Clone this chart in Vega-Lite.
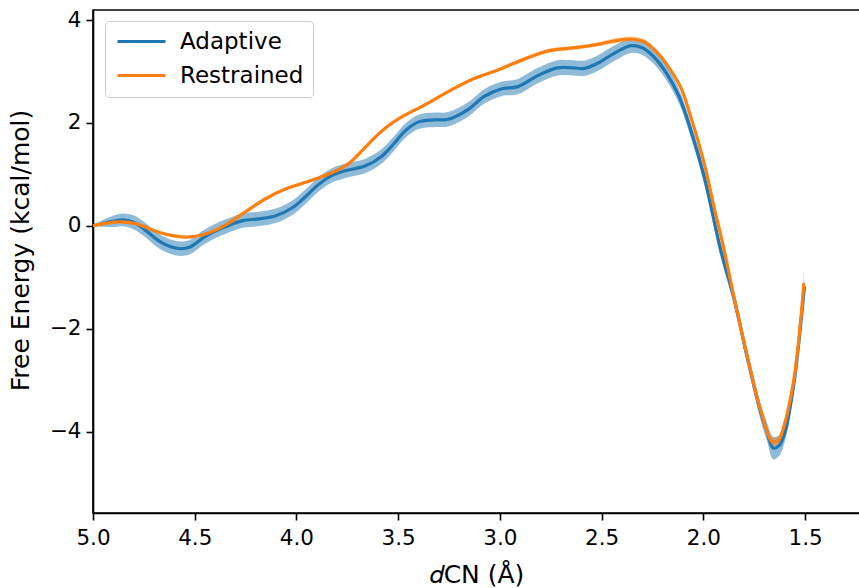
{
  "$schema": "https://vega.github.io/schema/vega-lite/v6.json",
  "width": 767,
  "height": 503,
  "autosize": {"type": "none"},
  "padding": {"left": 93, "top": 10, "right": 0, "bottom": 75},
  "background": "white",
  "config": {
    "font": "DejaVu Sans",
    "view": {"stroke": "black", "strokeWidth": 1.6},
    "axis": {
      "grid": false,
      "domainColor": "black",
      "domainWidth": 1.6,
      "tickColor": "black",
      "tickWidth": 1.6,
      "tickSize": 7,
      "labelFontSize": 21.5,
      "labelColor": "black",
      "labelPadding": 5,
      "labelFlush": false,
      "titleFontSize": 25,
      "titleFontWeight": "normal",
      "titleColor": "black",
      "labelFont": "DejaVu Sans",
      "titleFont": "DejaVu Sans"
    },
    "legend": {
      "orient": "none",
      "legendX": 12,
      "legendY": 11,
      "padding": 9,
      "strokeColor": "#cccccc",
      "fillColor": "rgba(255,255,255,0.8)",
      "cornerRadius": 4,
      "symbolType": "M-1,0H5",
      "symbolSize": 256,
      "symbolStrokeWidth": 3.2,
      "labelFontSize": 23,
      "labelFont": "DejaVu Sans",
      "labelColor": "black",
      "labelOffset": 43,
      "rowPadding": 10
    }
  },
  "data": {
    "values": [
      {"series": "Adaptive", "d": 5.000, "fe": 0.000, "lo": 0.000, "hi": 0.000},
      {"series": "Adaptive", "d": 4.951, "fe": 0.045, "lo": -0.020, "hi": 0.110},
      {"series": "Adaptive", "d": 4.902, "fe": 0.085, "lo": -0.025, "hi": 0.195},
      {"series": "Adaptive", "d": 4.853, "fe": 0.115, "lo": -0.010, "hi": 0.240},
      {"series": "Adaptive", "d": 4.799, "fe": 0.065, "lo": -0.070, "hi": 0.200},
      {"series": "Adaptive", "d": 4.755, "fe": -0.045, "lo": -0.185, "hi": 0.095},
      {"series": "Adaptive", "d": 4.673, "fe": -0.305, "lo": -0.445, "hi": -0.165},
      {"series": "Adaptive", "d": 4.618, "fe": -0.408, "lo": -0.548, "hi": -0.268},
      {"series": "Adaptive", "d": 4.567, "fe": -0.447, "lo": -0.587, "hi": -0.307},
      {"series": "Adaptive", "d": 4.520, "fe": -0.408, "lo": -0.548, "hi": -0.268},
      {"series": "Adaptive", "d": 4.461, "fe": -0.239, "lo": -0.379, "hi": -0.099},
      {"series": "Adaptive", "d": 4.407, "fe": -0.117, "lo": -0.257, "hi": 0.023},
      {"series": "Adaptive", "d": 4.347, "fe": -0.014, "lo": -0.154, "hi": 0.126},
      {"series": "Adaptive", "d": 4.265, "fe": 0.100, "lo": -0.040, "hi": 0.240},
      {"series": "Adaptive", "d": 4.183, "fe": 0.135, "lo": -0.005, "hi": 0.275},
      {"series": "Adaptive", "d": 4.101, "fe": 0.195, "lo": 0.055, "hi": 0.335},
      {"series": "Adaptive", "d": 4.020, "fe": 0.350, "lo": 0.210, "hi": 0.490},
      {"series": "Adaptive", "d": 3.960, "fe": 0.550, "lo": 0.410, "hi": 0.690},
      {"series": "Adaptive", "d": 3.892, "fe": 0.800, "lo": 0.660, "hi": 0.940},
      {"series": "Adaptive", "d": 3.830, "fe": 0.970, "lo": 0.830, "hi": 1.110},
      {"series": "Adaptive", "d": 3.760, "fe": 1.070, "lo": 0.930, "hi": 1.210},
      {"series": "Adaptive", "d": 3.663, "fe": 1.160, "lo": 1.020, "hi": 1.300},
      {"series": "Adaptive", "d": 3.582, "fe": 1.346, "lo": 1.206, "hi": 1.486},
      {"series": "Adaptive", "d": 3.520, "fe": 1.600, "lo": 1.460, "hi": 1.740},
      {"series": "Adaptive", "d": 3.467, "fe": 1.840, "lo": 1.700, "hi": 1.980},
      {"series": "Adaptive", "d": 3.400, "fe": 2.020, "lo": 1.880, "hi": 2.160},
      {"series": "Adaptive", "d": 3.320, "fe": 2.060, "lo": 1.920, "hi": 2.200},
      {"series": "Adaptive", "d": 3.255, "fe": 2.070, "lo": 1.930, "hi": 2.210},
      {"series": "Adaptive", "d": 3.157, "fe": 2.260, "lo": 2.120, "hi": 2.400},
      {"series": "Adaptive", "d": 3.075, "fe": 2.520, "lo": 2.380, "hi": 2.660},
      {"series": "Adaptive", "d": 2.994, "fe": 2.660, "lo": 2.520, "hi": 2.800},
      {"series": "Adaptive", "d": 2.912, "fe": 2.705, "lo": 2.555, "hi": 2.855},
      {"series": "Adaptive", "d": 2.814, "fe": 2.920, "lo": 2.770, "hi": 3.070},
      {"series": "Adaptive", "d": 2.716, "fe": 3.070, "lo": 2.920, "hi": 3.220},
      {"series": "Adaptive", "d": 2.640, "fe": 3.070, "lo": 2.920, "hi": 3.220},
      {"series": "Adaptive", "d": 2.585, "fe": 3.060, "lo": 2.910, "hi": 3.210},
      {"series": "Adaptive", "d": 2.520, "fe": 3.159, "lo": 3.009, "hi": 3.309},
      {"series": "Adaptive", "d": 2.438, "fe": 3.353, "lo": 3.203, "hi": 3.503},
      {"series": "Adaptive", "d": 2.356, "fe": 3.501, "lo": 3.361, "hi": 3.641},
      {"series": "Adaptive", "d": 2.300, "fe": 3.460, "lo": 3.320, "hi": 3.600},
      {"series": "Adaptive", "d": 2.240, "fe": 3.270, "lo": 3.130, "hi": 3.410},
      {"series": "Adaptive", "d": 2.180, "fe": 2.960, "lo": 2.820, "hi": 3.100},
      {"series": "Adaptive", "d": 2.120, "fe": 2.520, "lo": 2.380, "hi": 2.660},
      {"series": "Adaptive", "d": 2.062, "fe": 1.864, "lo": 1.724, "hi": 2.004},
      {"series": "Adaptive", "d": 1.996, "fe": 0.957, "lo": 0.817, "hi": 1.097},
      {"series": "Adaptive", "d": 1.915, "fe": -0.466, "lo": -0.606, "hi": -0.326},
      {"series": "Adaptive", "d": 1.850, "fe": -1.400, "lo": -1.540, "hi": -1.260},
      {"series": "Adaptive", "d": 1.784, "fe": -2.560, "lo": -2.700, "hi": -2.420},
      {"series": "Adaptive", "d": 1.719, "fe": -3.610, "lo": -3.770, "hi": -3.450},
      {"series": "Adaptive", "d": 1.686, "fe": -4.020, "lo": -4.200, "hi": -3.840},
      {"series": "Adaptive", "d": 1.657, "fe": -4.320, "lo": -4.540, "hi": -4.100},
      {"series": "Adaptive", "d": 1.627, "fe": -4.270, "lo": -4.470, "hi": -4.070},
      {"series": "Adaptive", "d": 1.598, "fe": -4.000, "lo": -4.170, "hi": -3.830},
      {"series": "Adaptive", "d": 1.555, "fe": -3.070, "lo": -3.220, "hi": -2.920},
      {"series": "Adaptive", "d": 1.523, "fe": -1.980, "lo": -2.130, "hi": -1.830},
      {"series": "Adaptive", "d": 1.503, "fe": -1.180, "lo": -1.330, "hi": -1.030},
      {"series": "Restrained", "d": 5.000, "fe": 0.000, "lo": 0.000, "hi": 0.000},
      {"series": "Restrained", "d": 4.935, "fe": 0.050, "lo": 0.030, "hi": 0.070},
      {"series": "Restrained", "d": 4.869, "fe": 0.075, "lo": 0.045, "hi": 0.105},
      {"series": "Restrained", "d": 4.788, "fe": 0.039, "lo": 0.009, "hi": 0.069},
      {"series": "Restrained", "d": 4.673, "fe": -0.130, "lo": -0.160, "hi": -0.100},
      {"series": "Restrained", "d": 4.543, "fe": -0.219, "lo": -0.249, "hi": -0.189},
      {"series": "Restrained", "d": 4.461, "fe": -0.175, "lo": -0.205, "hi": -0.145},
      {"series": "Restrained", "d": 4.347, "fe": 0.019, "lo": -0.011, "hi": 0.049},
      {"series": "Restrained", "d": 4.249, "fe": 0.278, "lo": 0.248, "hi": 0.308},
      {"series": "Restrained", "d": 4.150, "fe": 0.530, "lo": 0.500, "hi": 0.560},
      {"series": "Restrained", "d": 4.052, "fe": 0.720, "lo": 0.690, "hi": 0.750},
      {"series": "Restrained", "d": 3.960, "fe": 0.840, "lo": 0.810, "hi": 0.870},
      {"series": "Restrained", "d": 3.880, "fe": 0.950, "lo": 0.920, "hi": 0.980},
      {"series": "Restrained", "d": 3.800, "fe": 1.080, "lo": 1.050, "hi": 1.110},
      {"series": "Restrained", "d": 3.740, "fe": 1.220, "lo": 1.190, "hi": 1.250},
      {"series": "Restrained", "d": 3.680, "fe": 1.450, "lo": 1.420, "hi": 1.480},
      {"series": "Restrained", "d": 3.614, "fe": 1.720, "lo": 1.690, "hi": 1.750},
      {"series": "Restrained", "d": 3.550, "fe": 1.940, "lo": 1.910, "hi": 1.970},
      {"series": "Restrained", "d": 3.480, "fe": 2.120, "lo": 2.090, "hi": 2.150},
      {"series": "Restrained", "d": 3.369, "fe": 2.350, "lo": 2.320, "hi": 2.380},
      {"series": "Restrained", "d": 3.239, "fe": 2.641, "lo": 2.611, "hi": 2.671},
      {"series": "Restrained", "d": 3.132, "fe": 2.854, "lo": 2.824, "hi": 2.884},
      {"series": "Restrained", "d": 3.010, "fe": 3.029, "lo": 2.999, "hi": 3.059},
      {"series": "Restrained", "d": 2.912, "fe": 3.190, "lo": 3.150, "hi": 3.230},
      {"series": "Restrained", "d": 2.765, "fe": 3.398, "lo": 3.358, "hi": 3.438},
      {"series": "Restrained", "d": 2.634, "fe": 3.462, "lo": 3.422, "hi": 3.502},
      {"series": "Restrained", "d": 2.536, "fe": 3.515, "lo": 3.475, "hi": 3.555},
      {"series": "Restrained", "d": 2.438, "fe": 3.592, "lo": 3.542, "hi": 3.642},
      {"series": "Restrained", "d": 2.356, "fe": 3.631, "lo": 3.581, "hi": 3.681},
      {"series": "Restrained", "d": 2.291, "fe": 3.579, "lo": 3.529, "hi": 3.629},
      {"series": "Restrained", "d": 2.230, "fe": 3.380, "lo": 3.340, "hi": 3.420},
      {"series": "Restrained", "d": 2.170, "fe": 3.080, "lo": 3.040, "hi": 3.120},
      {"series": "Restrained", "d": 2.110, "fe": 2.680, "lo": 2.640, "hi": 2.720},
      {"series": "Restrained", "d": 2.062, "fe": 2.122, "lo": 2.082, "hi": 2.162},
      {"series": "Restrained", "d": 1.996, "fe": 1.217, "lo": 1.177, "hi": 1.257},
      {"series": "Restrained", "d": 1.948, "fe": 0.375, "lo": 0.335, "hi": 0.415},
      {"series": "Restrained", "d": 1.898, "fe": -0.466, "lo": -0.506, "hi": -0.426},
      {"series": "Restrained", "d": 1.850, "fe": -1.373, "lo": -1.413, "hi": -1.333},
      {"series": "Restrained", "d": 1.784, "fe": -2.538, "lo": -2.588, "hi": -2.488},
      {"series": "Restrained", "d": 1.719, "fe": -3.573, "lo": -3.633, "hi": -3.513},
      {"series": "Restrained", "d": 1.662, "fe": -4.188, "lo": -4.268, "hi": -4.108},
      {"series": "Restrained", "d": 1.632, "fe": -4.175, "lo": -4.255, "hi": -4.095},
      {"series": "Restrained", "d": 1.604, "fe": -3.897, "lo": -3.977, "hi": -3.817},
      {"series": "Restrained", "d": 1.555, "fe": -2.990, "lo": -3.090, "hi": -2.890},
      {"series": "Restrained", "d": 1.523, "fe": -1.889, "lo": -2.039, "hi": -1.739},
      {"series": "Restrained", "d": 1.506, "fe": -1.113, "lo": -1.363, "hi": -0.863}
    ]
  },
  "encoding": {
    "x": {"field": "d", "type": "quantitative", "scale": {"domain": [1.23, 5.0], "reverse": true, "nice": false, "zero": false},
          "axis": {"values": [5.0, 4.5, 4.0, 3.5, 3.0, 2.5, 2.0, 1.5], "format": ".1f", "title": "𝑑CN (Å)", "labelPadding": 7, "titlePadding": 14}}
  },
  "layer": [
    {
      "transform": [{"filter": "datum.series === 'Adaptive'"}],
      "mark": {"type": "area", "interpolate": "catmull-rom", "color": "#1f77b4", "fillOpacity": 0.5},
      "encoding": {
        "y": {"field": "lo", "type": "quantitative", "scale": {"domain": [-5.584, 4.195], "nice": false, "zero": false},
              "axis": {"values": [-4, -2, 0, 2, 4], "format": "d", "title": "Free Energy (kcal/mol)", "titlePadding": 16, "titleY": 240}},
        "y2": {"field": "hi"}
      }
    },
    {
      "transform": [{"filter": "datum.series === 'Adaptive'"}],
      "mark": {"type": "line", "interpolate": "catmull-rom", "strokeWidth": 3.2},
      "encoding": {
        "y": {"field": "fe", "type": "quantitative"},
        "color": {"field": "series", "type": "nominal", "scale": {"domain": ["Adaptive", "Restrained"], "range": ["#1f77b4", "#ff7f0e"]}, "legend": {"title": null}}
      }
    },
    {
      "transform": [{"filter": "datum.series === 'Restrained'"}],
      "mark": {"type": "area", "interpolate": "catmull-rom", "color": "#ff7f0e", "fillOpacity": 0.35},
      "encoding": {
        "y": {"field": "lo", "type": "quantitative"},
        "y2": {"field": "hi"}
      }
    },
    {
      "transform": [{"filter": "datum.series === 'Restrained'"}],
      "mark": {"type": "line", "interpolate": "catmull-rom", "strokeWidth": 3.2},
      "encoding": {
        "y": {"field": "fe", "type": "quantitative"},
        "color": {"field": "series", "type": "nominal", "scale": {"domain": ["Adaptive", "Restrained"], "range": ["#1f77b4", "#ff7f0e"]}, "legend": {"title": null}}
      }
    }
  ]
}
